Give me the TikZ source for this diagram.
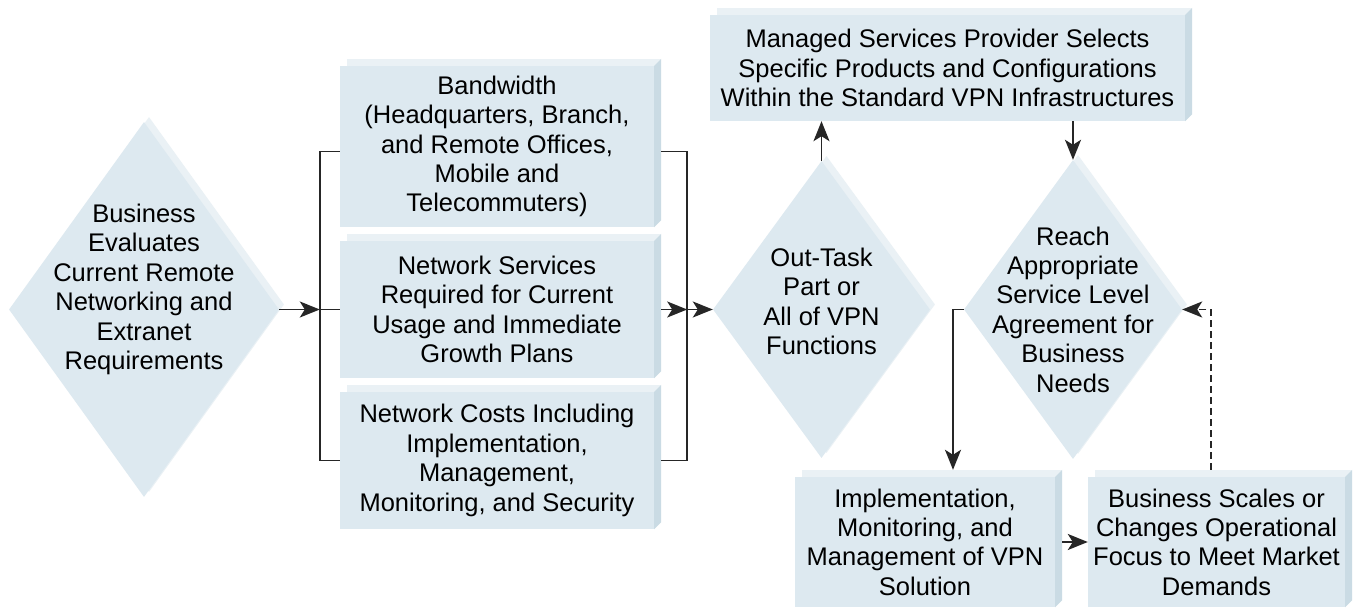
\documentclass[tikz,border=0pt]{standalone}
\usepackage{fontspec}
\setmainfont{Liberation Sans}
\usetikzlibrary{arrows.meta,shapes.geometric,shadows,calc}
\definecolor{facecol}{HTML}{DDE9F0}
\definecolor{topcol}{HTML}{EAF1F5}
\definecolor{sidecol}{HTML}{CADBE4}
\begin{document}
\begin{tikzpicture}[x=1pt,y=-1pt,
  txt/.style={font=\fontsize{25.5}{29.4}\selectfont, align=center, text=black},
  card/.style={txt, rectangle, fill=facecol, inner sep=0pt,
    copy shadow={shadow xshift=7pt, shadow yshift=7pt, fill=topcol, draw=none}},
  dia/.style={diamond, fill=facecol, inner sep=0pt,
    copy shadow={shadow xshift=5pt, shadow yshift=5pt, fill=topcol, draw=none}},
  conn/.style={line width=1.6pt, draw=black!85},
  arr/.style={conn, -{Stealth[length=20pt,width=16pt,inset=5pt]}},
]
\fill[white] (0,0) rectangle (1361,609);
\useasboundingbox (0,0) rectangle (1361,609);

% boxes
\node[card, minimum width=314pt, minimum height=161pt] (b1) at (497,146.5)
  {Bandwidth\\(Headquarters, Branch,\\and Remote Offices,\\Mobile and\\Telecommuters)};
\node[card, minimum width=314pt, minimum height=137pt] (b2) at (497,309.5)
  {Network Services\\Required for Current\\Usage and Immediate\\Growth Plans};
\node[card, minimum width=314pt, minimum height=137pt] (b3) at (497,460.5)
  {Network Costs Including\\Implementation,\\Management,\\Monitoring, and Security};
\node[card, minimum width=475pt, minimum height=106pt] (m) at (947.5,68)
  {Managed Services Provider Selects\\Specific Products and Configurations\\Within the Standard VPN Infrastructures};
\node[card, minimum width=260pt, minimum height=130pt] (impl) at (925,542)
  {Implementation,\\Monitoring, and\\Management of VPN\\Solution};
\node[card, minimum width=257pt, minimum height=130pt] (scale) at (1216.5,542)
  {Business Scales or\\Changes Operational\\Focus to Meet Market\\Demands};

\foreach \n in {b1,b2,b3,m,impl,scale}{
  \fill[sidecol] (\n.north east) -- ++(7,-7) -- ($(\n.south east)+(7,-7)$) -- (\n.south east) -- cycle;
}

% diamonds
\node[dia, minimum width=270pt, minimum height=375pt] (d1) at (144,309.5) {};
\node[txt] (d1t) at ($(d1.center)+(0,-20)$)
  {Business\\Evaluates\\Current Remote\\Networking and\\Extranet\\Requirements};
\node[dia, minimum width=217pt, minimum height=297pt] (d2) at (821.5,309.5) {};
\node[txt] (d2t) at ($(d2.center)+(0,-8)$)
  {Out-Task\\Part or\\All of VPN\\Functions};
\node[dia, minimum width=218pt, minimum height=299pt] (d3) at (1073,309.5) {};
\node[txt] (d3t) at (d3.center)
  {Reach\\Appropriate\\Service Level\\Agreement for\\Business\\Needs};

% left bracket
\coordinate (lbm) at ([xshift=-20pt]b2.west);
\draw[arr] (d1.east) -- (lbm);
\draw[conn] (lbm) -- (b2.west);
\draw[conn] ([yshift=-5pt]b1.west) -- ++(-20,0) |- (b3.west);

% right bracket
\coordinate (rbm) at ([xshift=33pt]b2.east);
\draw[arr] ([xshift=7pt]b2.east) -- (rbm);
\draw[arr] (rbm) -- (d2.west);
\draw[conn] ([xshift=7pt,yshift=-5pt]b1.east) -- ++(26,0) |- ([xshift=7pt]b3.east);

% other connectors
\draw[arr] (d2.north) -- (d2.north |- m.south);
\draw[arr] (m.south -| d3.north) -- (d3.north);
\draw[arr] (d3.west) -| ([xshift=28pt,yshift=7pt]impl.north);
\draw[arr] ([xshift=7pt]impl.east) -- (scale.west);
\draw[arr, dash pattern=on 7pt off 4pt] ([xshift=-5.5pt,yshift=7pt]scale.north) |- (d3.east);
\end{tikzpicture}
\end{document}
